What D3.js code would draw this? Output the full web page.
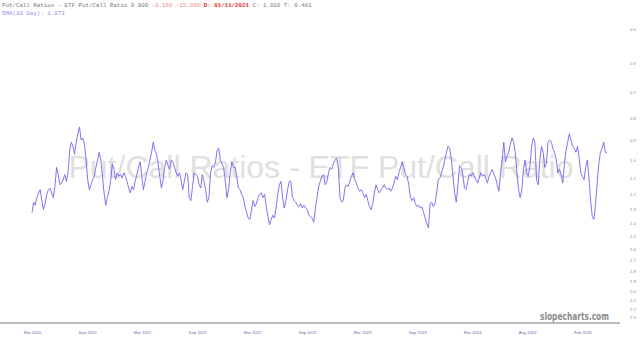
<!DOCTYPE html>
<html>
<head>
<meta charset="utf-8">
<script src="https://cdn.jsdelivr.net/npm/d3@7"></script>
<style>
  html, body { margin: 0; padding: 0; background: #fff; }
  svg { display: block; }
  .hdr { font-family: "Liberation Mono", "DejaVu Sans Mono", monospace; font-size: 5.8px; }
  .axis text { font-family: "Liberation Sans", Arial, sans-serif; font-size: 4.2px; }
</style>
</head>
<body>
<div id="chart"></div>
<script>
// ETF put/call ratio, one reading per bar
const ratio = [
  1.32,1.25,1.27,1.22,1.19,1.17,1.24,1.30,1.26,1.20,
  1.17,1.16,1.19,1.22,1.15,1.04,1.08,1.14,1.13,1.11,
  1.08,1.12,1.07,0.95,0.91,0.93,0.97,0.91,0.87,0.84,
  0.90,0.89,0.92,1.00,1.11,1.17,1.14,1.11,1.09,1.04,
  1.00,0.96,1.00,1.09,1.19,1.27,1.22,1.18,1.12,1.02,
  1.05,1.11,1.07,1.09,1.08,1.10,1.07,1.09,1.12,1.16,
  1.19,1.15,1.17,1.12,1.08,1.04,1.01,1.09,1.17,1.12,
  1.07,1.04,1.00,0.96,0.91,0.95,0.97,1.02,1.09,1.16,
  1.11,1.04,1.00,1.03,1.05,1.00,1.01,1.04,1.07,
  1.09,1.07,1.11,1.17,1.12,1.07,1.08,1.22,1.24,1.15,
  1.07,1.08,1.09,1.14,1.16,1.08,1.12,1.17,1.25,1.22,
  1.07,1.03,1.04,1.01,0.95,0.94,1.00,1.02,1.04,1.12,
  1.22,1.17,1.07,1.01,1.04,1.04,1.09,1.16,1.17,1.20,
  1.22,1.28,1.32,1.36,1.37,1.30,1.24,1.28,1.26,1.22,
  1.20,1.19,1.22,1.20,1.28,1.35,1.41,1.37,1.34,1.36,
  1.29,1.20,1.14,1.12,1.22,1.29,1.24,1.17,1.12,1.12,
  1.22,1.24,1.25,1.27,1.28,1.26,1.29,1.27,1.29,1.30,
  1.34,1.35,1.36,1.39,1.29,1.22,1.15,1.12,
  1.09,1.08,1.14,1.12,1.07,1.04,1.05,1.02,1.00,0.99,
  1.04,1.22,1.25,1.24,1.16,1.14,1.15,1.12,1.09,1.07,
  1.11,1.13,1.16,1.18,1.17,1.19,1.22,1.20,1.24,1.28,
  1.30,1.26,1.19,1.14,1.17,1.19,1.17,1.16,1.14,1.16,
  1.17,1.16,1.18,1.16,1.13,1.09,1.11,1.07,1.04,1.01,
  1.04,1.08,1.09,1.14,1.22,1.24,1.22,1.26,1.28,1.27,
  1.29,1.28,1.32,1.36,1.40,1.43,1.26,1.25,1.28,1.26,
  1.19,1.11,1.10,1.07,1.04,1.00,0.96,0.93,0.94,1.00,
  1.09,1.19,1.25,1.14,
  1.03,1.04,1.08,1.16,1.17,1.12,1.08,1.09,1.07,1.09,
  1.11,1.13,1.10,1.07,1.09,1.08,1.10,1.13,1.09,1.07,
  1.05,1.08,1.10,1.14,1.18,1.07,1.00,0.91,1.01,0.98,
  0.96,0.92,0.89,0.91,0.96,1.07,1.17,1.22,1.17,1.05,
  1.00,1.07,1.09,1.03,0.93,0.89,0.91,1.11,1.14,1.00,
  0.93,0.96,1.04,1.02,0.91,0.90,0.91,0.94,0.96,1.00,
  1.07,1.05,1.08,1.13,1.02,0.95,0.91,0.87,0.90,0.93,
  0.94,0.96,0.93,0.99,1.07,1.09,1.11,1.04,1.00,1.10,
  1.24,1.35,1.37,1.26,1.13,1.02,0.96,0.94,0.91,0.96,
  0.96
];

const xTickLabels = ["Mar 2020","Sep 2020","Mar 2021","Sep 2021","Mar 2022","Sep 2022",
                     "Mar 2023","Sep 2023","Mar 2024","Aug 2024","Feb 2025"];
const yTicks = [0.5,0.6,0.7,0.8,0.9,1.0,1.1,1.2,1.3,1.4,1.5,1.6,1.7,1.8,1.9,2.0,2.1,2.2,2.3];

const title = "Put/Call Ratios - ETF Put/Call Ratio";

const width = 640, height = 339;

const svg = d3.select("#chart").append("svg")
    .attr("width", width)
    .attr("height", height);

// series covers ~10.45 label intervals
const tickStep = (ratio.length - 1) / 10.45;

const x_scale = d3.scaleLinear()
    .domain([0, ratio.length - 1])
    .range([32, 607]);

// inverted log scale: low ratio at the top
const y_scale = d3.scaleLog()
    .domain([0.5, 2.0])
    .range([29, 291]);

// watermark
svg.append("text")
    .attr("x", 321)
    .attr("y", 178)
    .attr("text-anchor", "middle")
    .attr("font-family", "Liberation Sans, Arial, sans-serif")
    .attr("font-size", 32)
    .attr("fill", "#e0e0e0")
    .text(title);

// header lines
const hdr = svg.append("text").attr("class", "hdr").attr("x", 2).attr("y", 7);
hdr.append("tspan").attr("fill", "#777").text(title + " 0.900 ");
hdr.append("tspan").attr("fill", "#f08a8a").text("-0.160 -15.09% ");
hdr.append("tspan").attr("fill", "#dd2a2a").attr("font-weight", "bold").text("D: 01/11/2021 ");
hdr.append("tspan").attr("fill", "#777").text("C: 1.010 T: 0.481");

svg.append("text").attr("class", "hdr")
    .attr("x", 2).attr("y", 14.5)
    .attr("fill", "#9488f0")
    .text("SMA(10 Day): 1.073");

// bottom rule
svg.append("line")
    .attr("x1", 0).attr("x2", 620)
    .attr("y1", 323).attr("y2", 323)
    .attr("stroke", "#bbb")
    .attr("stroke-width", 2);

const gX = svg.append("g")
    .attr("class", "axis")
    .attr("transform", "translate(0,329)")
    .call(d3.axisBottom(x_scale)
        .tickValues(xTickLabels.map((d, i) => i * tickStep))
        .tickFormat((d, i) => xTickLabels[i])
        .tickSize(0)
        .tickPadding(2));
gX.select(".domain").remove();
gX.selectAll("text").attr("fill", "#6a6aa8");

const gY = svg.append("g")
    .attr("class", "axis")
    .attr("transform", "translate(629,0)")
    .call(d3.axisRight(y_scale)
        .tickValues(yTicks)
        .tickFormat(d3.format(".1f"))
        .tickSize(0)
        .tickPadding(1));
gY.select(".domain").remove();
gY.selectAll("text").attr("fill", "#888");

// the ratio line
const line = d3.line()
    .x((d, i) => x_scale(i))
    .y(d => y_scale(d));

svg.append("path")
    .datum(ratio)
    .attr("d", line)
    .attr("fill", "none")
    .attr("stroke", "#7564ec")
    .attr("stroke-width", 0.9);

// logo
svg.append("text")
    .attr("x", 540)
    .attr("y", 320)
    .attr("font-family", "DejaVu Sans, Verdana, sans-serif")
    .attr("font-weight", "bold")
    .attr("font-size", 10)
    .attr("textLength", 69)
    .attr("lengthAdjust", "spacingAndGlyphs")
    .attr("fill", "#8a8a8a")
    .text("slopecharts.com");
</script>
</body>
</html>
